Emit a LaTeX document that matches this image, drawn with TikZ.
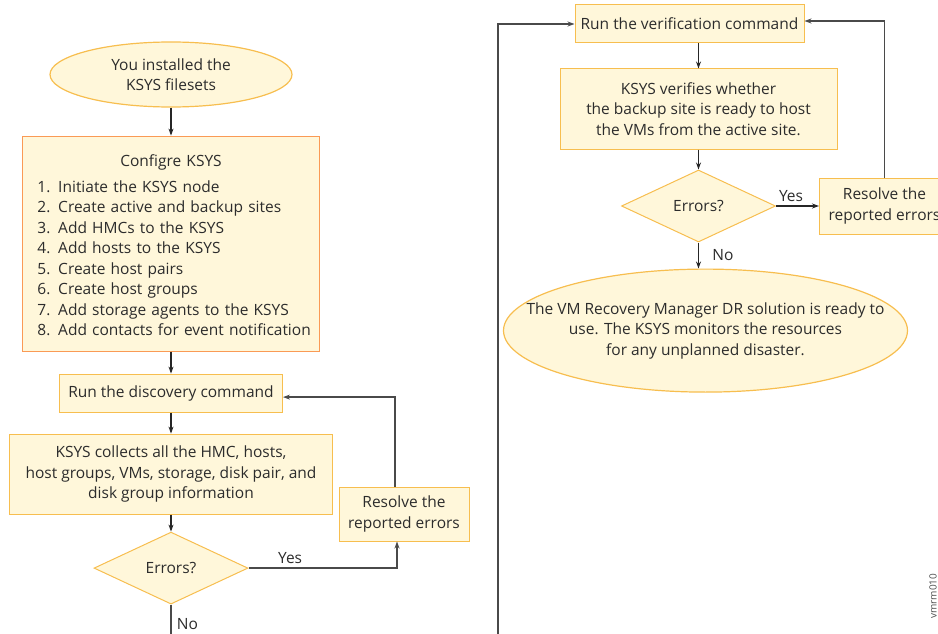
\documentclass[tikz,border=0pt]{standalone}
\usepackage{fontspec}
\setmainfont{Open Sans}
\usetikzlibrary{positioning, shapes.geometric, arrows.meta}
\definecolor{boxfill}{HTML}{FFF7DA}
\definecolor{boxline}{HTML}{F7BE4F}
\definecolor{cfgline}{HTML}{FA9A55}
\definecolor{txtgray}{HTML}{2C2C2C}
\definecolor{loopgray}{HTML}{4A4A4A}

\tikzset{
  every node/.style={text=txtgray, font=\fontsize{15.5}{20.5}\selectfont},
  stepbox/.style={rectangle, draw=boxline, fill=boxfill, line width=1pt, align=center, inner sep=0pt},
  terminal/.style={ellipse, draw=boxline, fill=boxfill, line width=1.2pt, align=center, inner sep=0pt},
  decision/.style={diamond, draw=boxline, fill=boxfill, line width=1pt, inner sep=0pt,
    minimum width=154pt, minimum height=72pt},
  flow/.style={-{Stealth[length=7pt,width=5pt]}, line width=1.1pt, draw=black!85},
  loop/.style={-{Stealth[length=7pt,width=5pt]}, line width=1.3pt, draw=loopgray},
}

\begin{document}
\begin{tikzpicture}[x=1pt, y=-1pt]
    \useasboundingbox (0,0) rectangle (938,634);

    % left column
    \node [terminal, minimum width=242pt, minimum height=65pt] (installed) at (171,74.5) {You installed the\\KSYS filesets};
    \node [stepbox, draw=cfgline, minimum width=297pt, minimum height=215pt, text width=284pt, align=left, below=28pt of installed] (config)
      {{\centering\rule{0pt}{21pt}Configre KSYS\par}\vspace{7pt}\hspace*{8.5pt}\begin{tabular}{@{}l@{}}
       1. Initiate the KSYS node\\
       2. Create active and backup sites\\
       3. Add HMCs to the KSYS\\
       4. Add hosts to the KSYS\\
       5. Create host pairs\\
       6. Create host groups\\
       7. Add storage agents to the KSYS\\
       8. Add contacts for event notification
       \end{tabular}};
    \node [stepbox, minimum width=223pt, minimum height=38pt, below=22pt of config] (discover) {Run the discovery command};
    \node [stepbox, minimum width=323pt, minimum height=80pt, below=21pt of discover] (collect) {KSYS collects all the HMC, hosts,\\host groups, VMs, storage, disk pair, and\\disk group information};
    \node [decision, below=17pt of collect] (errors) {Errors?};
    \node [stepbox, minimum width=130pt, minimum height=54pt] (resolve) at (404,514) {Resolve the\\reported errors};
    \coordinate (leftfoot) at (errors.south |- 0,634);

    % right column
    \node [stepbox, minimum width=229pt, minimum height=38pt] (verify) at (689.5,24) {Run the verification command};
    \node [stepbox, minimum width=277pt, minimum height=80pt, below=25pt of verify, xshift=9pt] (check) {KSYS verifies whether\\the backup site is ready to host\\the VMs from the active site.};
    \node [decision, below=20pt of check] (rerrors) {Errors?};
    \node [stepbox, minimum width=130pt, minimum height=56pt, right=43pt of rerrors] (reresolve) {Resolve the\\reported errors};
    \node [terminal, inner xsep=-50pt, minimum width=404pt, minimum height=123pt, below=26pt of rerrors, xshift=7pt] (ready) {The VM Recovery Manager DR solution is ready to\\use. The KSYS monitors the resources\\for any unplanned disaster.};
    \coordinate (rightfoot) at (498,634);

    \node [rotate=90, font=\fontsize{10}{12}\selectfont, text=black!70] (figid) at (933,596) {vmrm010};

    \draw [flow] (installed) -- (config);
    \draw [flow] (config) -- (discover);
    \draw [flow] (discover) -- (collect);
    \draw [flow] (collect) -- (errors);
    \draw [loop] (errors.east) -| node [pos=0.14, above] {Yes} ([xshift=-7pt]resolve.south);
    \draw [loop] ([xshift=-9pt]resolve.north) |- ([yshift=-4pt]discover.east);
    \draw [loop, -] (errors.south) -- node [pos=0.65, right=2pt] {No} (leftfoot);

    \draw [loop] (rightfoot) |- (verify.west);
    \draw [flow] (check.north |- verify.south) -- (check.north);
    \draw [flow] (check) -- (rerrors);
    \draw [flow] (rerrors) -- node [above, pos=0.35] {Yes} (reresolve);
    \draw [loop] (reresolve.north) |- ([yshift=3pt]verify.east);
    \draw [flow] (rerrors.south) -- node [right=10pt] {No} (rerrors.south |- ready.north);
\end{tikzpicture}
\end{document}
